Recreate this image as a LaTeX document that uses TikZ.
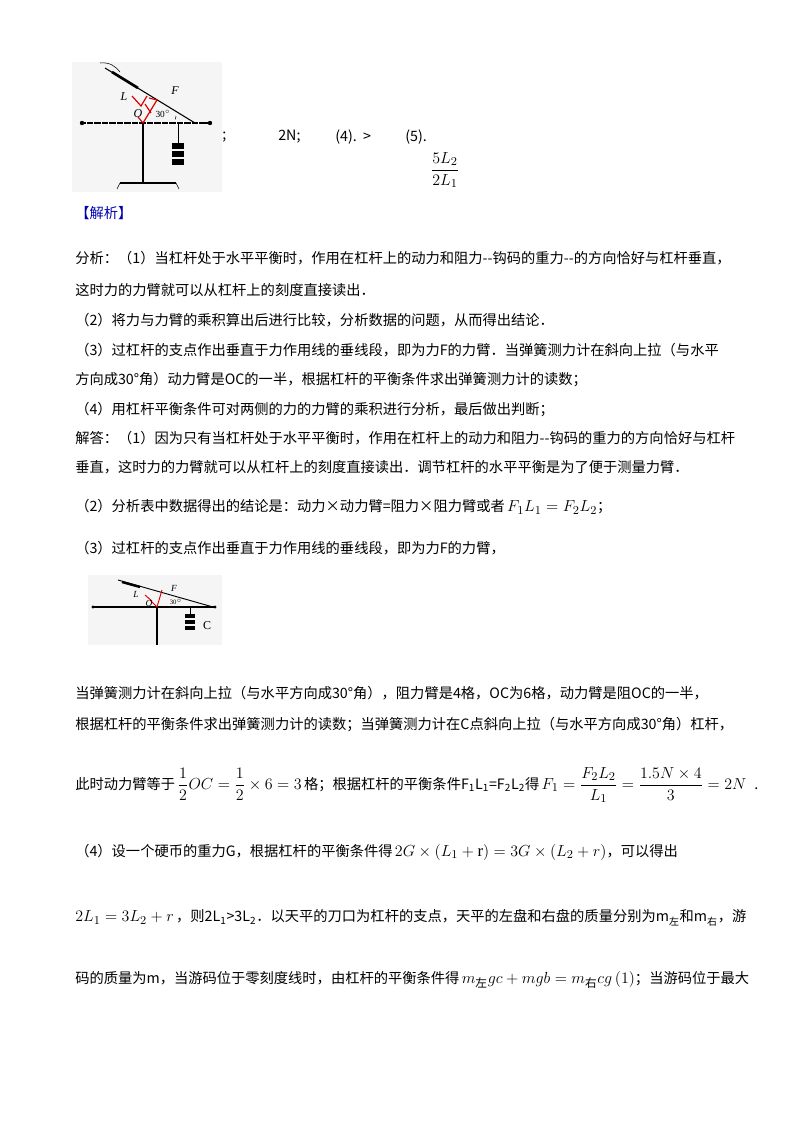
\documentclass[tikz,border=0pt]{standalone}
\usepackage{amsmath}
\usepackage{fontspec}
\setmainfont{Liberation Serif}
\newfontfamily\cjk{Noto Sans CJK SC}
\newcommand\mm[1]{{\fontsize{12.5}{14}\selectfont$#1$}}
\begin{document}
\begin{tikzpicture}[x=0.75pt,y=-0.75pt,
  txt/.style={anchor=west,inner sep=0pt,font=\cjk\fontsize{10.7}{12}\selectfont},
  photo/.style={fill=black!4,draw=none},
  bar/.style={line width=1.6pt},
  redl/.style={red!85!black,line width=0.9pt}]
\useasboundingbox (0,0) rectangle (800,1132);
% photo 1
\fill[photo] (72,62) rectangle (222,192);
\draw[bar] (82,123) -- (210,123);
\foreach \i in {0,...,15} \draw[white,line width=0.5pt] (86+\i*7.5,121.5) -- (86+\i*7.5,124.5);
\fill (82,123) circle (2.2); \fill (210,123) circle (2.2);
\draw[line width=1.3pt] (143,123) -- (143,183);
\draw[line width=1.5pt] (120,183) -- (176,183);
\draw (117,189) -- (120,183) (179,189) -- (176,183);
\draw[line width=0.8pt] (105,68) -- (195,123);
\draw[line width=2pt] (112,72) -- (138,88);
\draw (100,63) .. controls (110,62) and (115,66) .. (120,72);
\draw (178,123) -- (178,143);
\foreach \j in {0,1,2} \fill (172,143+\j*8) rectangle (184,149+\j*8);
\draw[redl] (143,123) -- (157,100);
\draw[redl] (138,117) -- (143,123);
\draw[redl] (149,98) -- (157,100) (145,104) -- (151,113);
\draw[redl] (132,96) -- (141,106) -- (147,96);
\node[font=\itshape\small] at (124,97) {L};
\node[font=\itshape\small] at (175,91) {F};
\node[font=\itshape\small] at (138,114) {O};
\node[font=\scriptsize] at (163,114) {30$^\circ$};
\draw (176,116) arc (200:180:10);
\node[txt] at (222,137) {;};
\node[txt] at (278,137) {2N;};
\node[txt] at (335,137) {(4).\ \ >};
\node[txt] at (405,137) {(5).};
\node at (445,170) {\mm{\dfrac{5L_2}{2L_1}}};
% text
\node[txt,text=blue!70!black] at (75,213) {【解析】};
\node[txt] at (75,258) {分析：（1）当杠杆处于水平平衡时，作用在杠杆上的动力和阻力--钩码的重力--的方向恰好与杠杆垂直，};
\node[txt] at (75,290) {这时力的力臂就可以从杠杆上的刻度直接读出．};
\node[txt] at (75,320) {（2）将力与力臂的乘积算出后进行比较，分析数据的问题，从而得出结论．};
\node[txt] at (75,350) {（3）过杠杆的支点作出垂直于力作用线的垂线段，即为力F的力臂．当弹簧测力计在斜向上拉（与水平};
\node[txt] at (75,380) {方向成30°角）动力臂是OC的一半，根据杠杆的平衡条件求出弹簧测力计的读数；};
\node[txt] at (75,410) {（4）用杠杆平衡条件可对两侧的力的力臂的乘积进行分析，最后做出判断；};
\node[txt] at (75,438) {解答：（1）因为只有当杠杆处于水平平衡时，作用在杠杆上的动力和阻力--钩码的重力的方向恰好与杠杆};
\node[txt] at (75,467) {垂直，这时力的力臂就可以从杠杆上的刻度直接读出．调节杠杆的水平平衡是为了便于测量力臂．};
\node[txt] at (75,507) {（2）分析表中数据得出的结论是：动力×动力臂=阻力×阻力臂或者\,\mm{F_1L_1=F_2L_2}；};
\node[txt] at (75,548) {（3）过杠杆的支点作出垂直于力作用线的垂线段，即为力F的力臂，};
% photo 2
\fill[photo] (88,575) rectangle (222,645);
\draw[bar,line width=1.2pt] (93,607) -- (215,607);
\fill (93,607) circle (1.6); \fill (215,607) circle (1.6);
\draw[line width=1pt] (157,607) -- (157,645);
\draw[line width=0.7pt] (118,580) -- (213,607);
\draw[line width=1.8pt] (122,582) -- (140,587);
\draw (190,607) -- (190,614);
\foreach \j in {0,1,2} \fill (185,614+\j*6) rectangle (195,618+\j*6);
\draw[redl,line width=0.7pt] (157,607) -- (162,590) (150,600) -- (157,607) (145,595) -- (152,601);
\node[font=\itshape\scriptsize] at (136,594) {L};
\node[font=\itshape\scriptsize] at (174,588) {F};
\node[font=\itshape\scriptsize] at (149,603) {O};
\node[font=\tiny] at (176,602) {30$^\circ$};
\node[font=\small] at (207,626) {C};
% text 2
\node[txt] at (75,693) {当弹簧测力计在斜向上拉（与水平方向成30°角），阻力臂是4格，OC为6格，动力臂是阻OC的一半，};
\node[txt] at (75,725) {根据杠杆的平衡条件求出弹簧测力计的读数；当弹簧测力计在C点斜向上拉（与水平方向成30°角）杠杆，};
\node[txt] at (75,785) {此时动力臂等于\,\mm{\dfrac12 OC=\dfrac12\times6=3}\,格；根据杠杆的平衡条件F\textsubscript{1}L\textsubscript{1}=F\textsubscript{2}L\textsubscript{2}得\,\mm{F_1=\dfrac{F_2L_2}{L_1}=\dfrac{1.5N\times4}{3}=2N}\hspace{6pt}.};
\node[txt] at (75,852) {（4）设一个硬币的重力G，根据杠杆的平衡条件得\,\mm{2G\times(L_1+\mathrm{r})=3G\times\left(L_2+r\right)}，可以得出};
\node[txt] at (75,918) {\mm{2L_1=3L_2+r}\,，则2L\textsubscript{1}>3L\textsubscript{2}．以天平的刀口为杠杆的支点，天平的左盘和右盘的质量分别为m\textsubscript{左}和m\textsubscript{右}，游};
\node[txt] at (75,980) {码的质量为m，当游码位于零刻度线时，由杠杆的平衡条件得\,\mm{m_{\text{左}}gc+mgb=m_{\text{右}}cg\left(1\right)}；当游码位于最大};
\end{tikzpicture}
\end{document}
